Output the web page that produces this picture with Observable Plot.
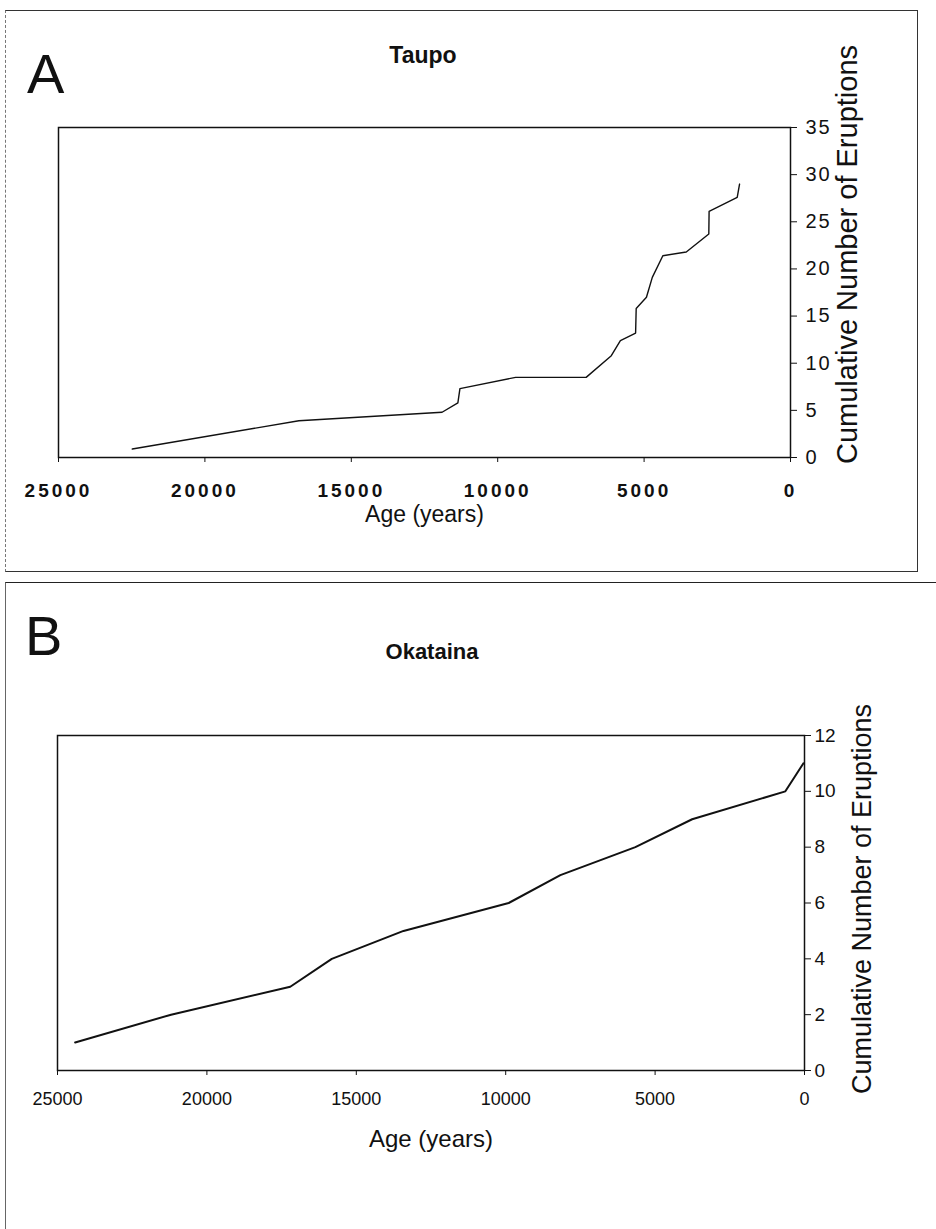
<!DOCTYPE html>
<html>
<head>
<meta charset="utf-8">
<script src="https://cdn.jsdelivr.net/npm/d3@7"></script>
<script src="https://cdn.jsdelivr.net/npm/@observablehq/plot@0.6"></script>
<style>
  html, body { margin: 0; padding: 0; background: #fff; }
  #page { position: relative; width: 936px; height: 1229px; overflow: hidden; font-family: "Liberation Sans", Arial, sans-serif; color: #111; }
  .box { position: absolute; box-sizing: border-box; }
  #boxA { left: 5px; top: 10px; width: 913px; height: 562px; border: 1px solid #333; border-left: 1px dashed #777; }
  #boxB { left: 5px; top: 582px; width: 960px; height: 700px; border-top: 1.5px solid #222; border-left: 1px solid #666; }
  .letter { position: absolute; font-size: 56px; line-height: 56px; font-weight: normal; }
  .title { position: absolute; width: 240px; text-align: center; font-size: 22px; line-height: 22px; font-weight: bold; }
  .chart { position: absolute; left: 0; }
  #chartA g[aria-label="x-axis tick label"] text { letter-spacing: 3px; }
  #chartA g[aria-label="y-axis tick label"] text { letter-spacing: 2px; }
</style>
</head>
<body>
<div id="page">
  <div class="box" id="boxA"></div>
  <div class="box" id="boxB"></div>
  <div class="letter" style="left:27px; top:46px;">A</div>
  <div class="title" style="left:303px; top:44px; font-size:23px;">Taupo</div>
  <div class="letter" style="left:25px; top:608px;">B</div>
  <div class="title" style="left:312px; top:641px;">Okataina</div>
  <div class="chart" id="chartA" style="top:0px;"></div>
  <div class="chart" id="chartB" style="top:600px;"></div>
</div>
<script>
// Panel A: Taupo
const taupoAge   = [22480, 16790, 11900, 11360, 11290, 9390, 6980, 6120, 5810, 5290, 5270, 4920, 4720, 4360, 3560, 2790, 2780, 1820, 1740];
const taupoCount = [0.9, 3.9, 4.8, 5.8, 7.3, 8.5, 8.5, 10.8, 12.4, 13.2, 15.8, 17.0, 19.1, 21.4, 21.8, 23.7, 26.1, 27.6, 29.0];
const taupoYTicks = [0, 5, 10, 15, 20, 25, 30, 35];

// Panel B: Okataina
const okatainaAge   = [24410, 21200, 17210, 15820, 13420, 9900, 8170, 5660, 3760, 640, 40];
const okatainaCount = [1, 2, 3, 4, 5, 6, 7, 8, 9, 10, 11];
const okatainaYTicks = [0, 2, 4, 6, 8, 10, 12];

const xTicks = [25000, 20000, 15000, 10000, 5000, 0];
const xLabel = "Age (years)";
const yLabel = "Cumulative Number of Eruptions";

const taupo = taupoAge.map((a, i) => ({age: a, count: taupoCount[i]}));
const okataina = okatainaAge.map((a, i) => ({age: a, count: okatainaCount[i]}));

const font = "'Liberation Sans', Arial, sans-serif";

const chartA = Plot.plot({
  width: 936, height: 560,
  marginLeft: 58, marginRight: 146, marginTop: 127, marginBottom: 103,
  x: {domain: [25000, 0]},
  y: {domain: [0, 35]},
  style: {fontFamily: font, color: "#111", background: "transparent", overflow: "visible"},
  marks: [
    Plot.frame({stroke: "#111", strokeWidth: 1.5}),
    Plot.axisX({ticks: xTicks, tickSize: 5, tickPadding: 21, tickFormat: d => String(d), fontSize: 19, fontWeight: "bold", label: null}),
    Plot.axisY({anchor: "right", ticks: taupoYTicks, tickSize: 6, tickPadding: 9, fontSize: 20, label: null}),
    Plot.text([xLabel], {frameAnchor: "bottom", dy: 64, textAnchor: "middle", lineAnchor: "bottom", fontSize: 23, text: d => d}),
    Plot.text([yLabel], {frameAnchor: "right", dx: 57, dy: -38, textAnchor: "middle", lineAnchor: "middle", rotate: -90, fontSize: 29, text: d => d}),
    Plot.line(taupo, {x: "age", y: "count", stroke: "#111", strokeWidth: 1.4})
  ]
});
document.getElementById("chartA").appendChild(chartA);

const chartB = Plot.plot({
  width: 936, height: 560,
  marginLeft: 57, marginRight: 132, marginTop: 135, marginBottom: 90,
  x: {domain: [25000, 0]},
  y: {domain: [0, 12]},
  style: {fontFamily: font, color: "#111", background: "transparent", overflow: "visible"},
  marks: [
    Plot.frame({stroke: "#111", strokeWidth: 1.5}),
    Plot.axisX({ticks: xTicks, tickSize: 5, tickPadding: 17, tickFormat: d => String(d), fontSize: 18, label: null}),
    Plot.axisY({anchor: "right", ticks: okatainaYTicks, tickSize: 6, tickPadding: 4, fontSize: 19, label: null}),
    Plot.text([xLabel], {frameAnchor: "bottom", dy: 76, textAnchor: "middle", lineAnchor: "bottom", fontSize: 24, text: d => d}),
    Plot.text([yLabel], {frameAnchor: "right", dx: 58, dy: -4, textAnchor: "middle", lineAnchor: "middle", rotate: -90, fontSize: 27, text: d => d}),
    Plot.line(okataina, {x: "age", y: "count", stroke: "#111", strokeWidth: 2})
  ]
});
document.getElementById("chartB").appendChild(chartB);
</script>
</body>
</html>
